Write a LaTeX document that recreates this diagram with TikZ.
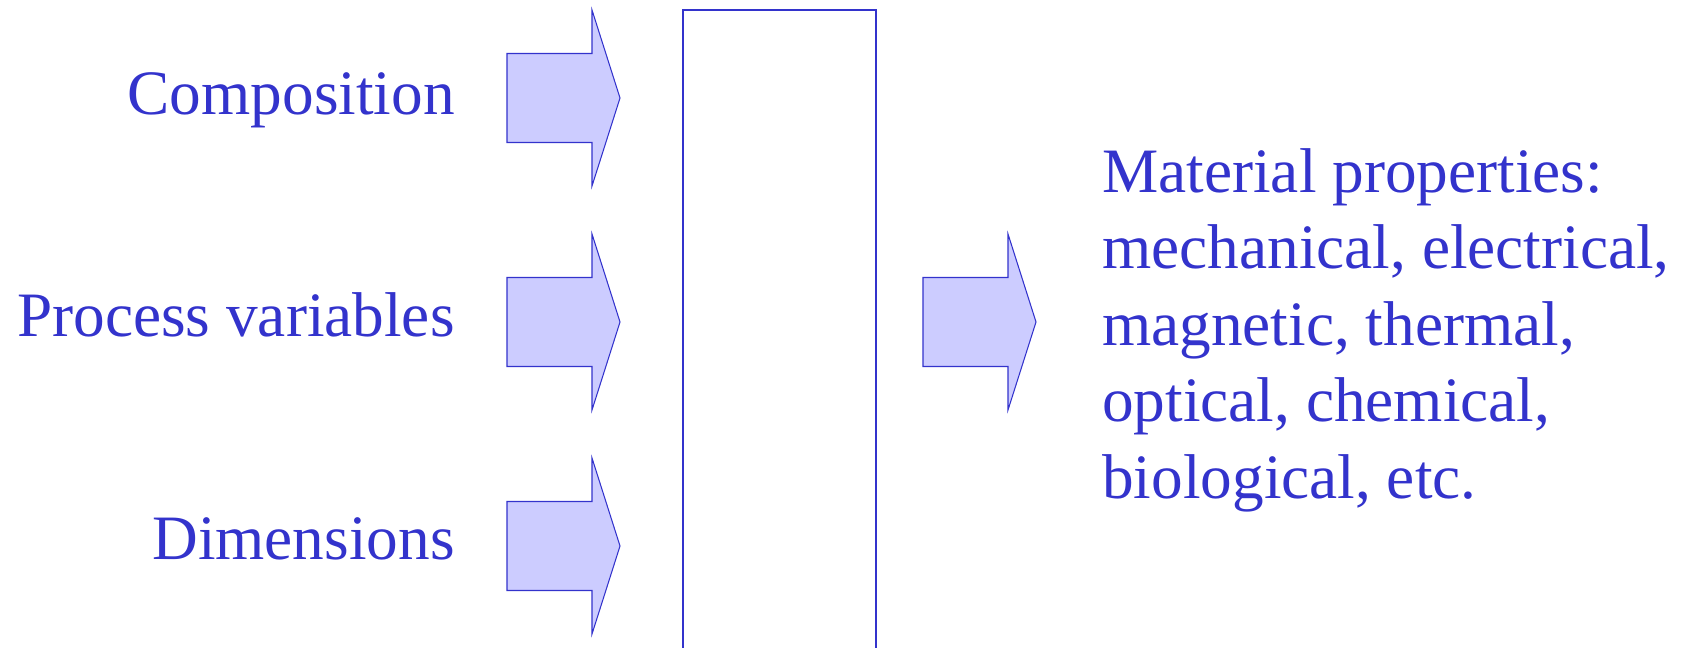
\documentclass[tikz,border=0pt]{standalone}
\usepackage{fontspec}
\setmainfont{Liberation Serif}
\usepackage{tikz}
\definecolor{ink}{rgb}{0.2,0.2,0.8}
\definecolor{pale}{rgb}{0.8,0.8,1}
\tikzstyle{caption}=[text=ink,inner sep=0pt,font=\fontsize{36}{43.5}\selectfont]
\tikzstyle{fatarrow}=[draw=ink,fill=pale,line width=0.6pt,line join=miter]
\tikzstyle{block}=[draw=ink,line width=0.6pt]

\begin{document}
\begin{tikzpicture}[x=0.02cm,y=-0.02cm]
	\useasboundingbox (0,0) rectangle (1693,648);
	% inputs on the left
	\node[caption,anchor=base east] (comp) at (455,115) {Composition};
	\node[caption,anchor=base east] (proc) at (455,337) {Process variables};
	\node[caption,anchor=base east] (dims) at (455,559) {Dimensions};
	% block arrows: shaft 85 long, head 28 long
	\foreach \x/\y in {507/98,507/322,507/546,923/322}
		\draw[fatarrow] (\x,\y) ++(0,-44.5) -- ++(85,0) -- ++(0,-43.5)
			-- ++(28,88) -- ++(-28,88) -- ++(0,-43.5) -- ++(-85,0) -- cycle;
	% the process box, running off the bottom
	\draw[block] (683,10) rectangle (876,700);
	% output (base anchor sits on the last line)
	\node[caption,anchor=base west,align=left] (props) at (1102,498)
		{Material properties:\\mechanical, electrical,\\magnetic, thermal,\\optical, chemical,\\biological, etc.};
\end{tikzpicture}
\end{document}
